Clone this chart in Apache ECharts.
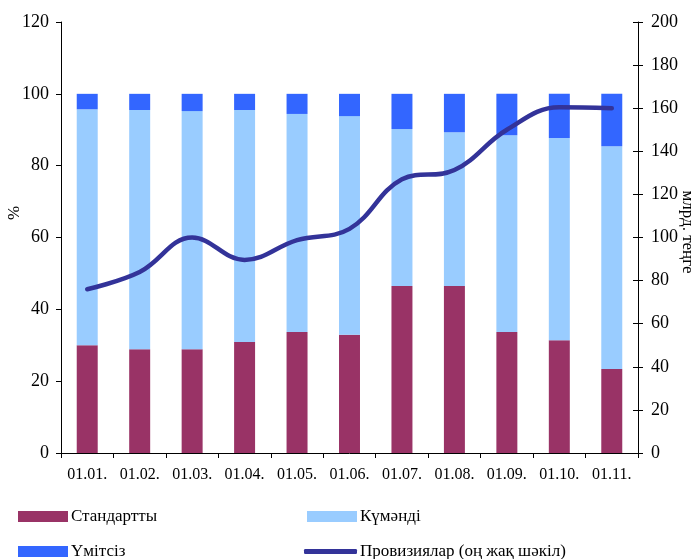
<!DOCTYPE html>
<html>
<head>
<meta charset="utf-8">
<script src="https://cdn.jsdelivr.net/npm/echarts@6/dist/echarts.min.js"></script>
<style>
  html, body { margin: 0; padding: 0; background: #fff; }
  #main { width: 693px; height: 559px; }
</style>
</head>
<body>
<div id="main"></div>
<script>
// даты (ось X)
var dates = ['01.01.', '01.02.', '01.03.', '01.04.', '01.05.', '01.06.', '01.07.', '01.08.', '01.09.', '01.10.', '01.11.'];
// доли, %
var standard = [30.0, 28.9, 28.9, 30.9, 33.7, 32.9, 46.5, 46.5, 33.7, 31.4, 23.4];
var doubtful = [65.7, 66.6, 66.3, 64.6, 60.7, 60.9, 43.7, 42.8, 54.8, 56.3, 62.0];
var hopeless = [4.3, 4.5, 4.8, 4.5, 5.6, 6.2, 9.8, 10.7, 11.5, 12.3, 14.6];
// провизии, млрд. тенге (правая шкала)
var provisions = [76, 84, 100, 89.6, 98.8, 104, 127, 131.3, 150, 160.4, 160];

var names = ['Стандартты', 'Күмәнді', 'Үмітсіз', 'Провизиялар (оң жақ шәкіл)'];
var font = 'Liberation Serif';

var myChart = echarts.init(document.getElementById('main'));

function legendAt(name, left, top, icon, w, h) {
  return {
    data: [{ name: name, icon: icon }],
    left: left,
    top: top,
    padding: 0,
    itemWidth: w,
    itemHeight: h,
    itemGap: 0,
    selectedMode: false,
    textStyle: { fontFamily: font, fontSize: 17, color: '#000', padding: [0, 0, 0, -2] }
  };
}

var axisLabel = { fontFamily: font, fontSize: 18, color: '#000' };
var axisLine = { show: true, lineStyle: { color: '#000', width: 1 } };

var option = {
  animation: false,
  textStyle: { fontFamily: font },
  grid: { left: 61, right: 55, top: 22, bottom: 106, containLabel: false },
  legend: [
    legendAt(names[0], 18, 508, 'rect', 50, 11),
    legendAt(names[1], 307, 508, 'rect', 50, 11),
    legendAt(names[2], 18, 543, 'rect', 50, 11),
    legendAt(names[3], 304, 543, 'roundRect', 53, 5)
  ],
  xAxis: {
    type: 'category',
    data: dates,
    axisLine: axisLine,
    axisTick: { show: true, length: 5, lineStyle: { color: '#000' } },
    axisLabel: { margin: 14, fontFamily: font, fontSize: 16, color: '#000' }
  },
  yAxis: [
    {
      type: 'value', min: 0, max: 120, interval: 20, position: 'left',
      axisLine: axisLine,
      axisTick: { show: true, length: 5, lineStyle: { color: '#000' } },
      axisLabel: Object.assign({ margin: 12 }, axisLabel),
      splitLine: { show: false }
    },
    {
      type: 'value', min: 0, max: 200, interval: 20, position: 'right',
      axisLine: axisLine,
      axisTick: { show: true, length: 5, lineStyle: { color: '#000' } },
      axisLabel: Object.assign({ margin: 13 }, axisLabel),
      splitLine: { show: false }
    },
    {
      // внутренние риски правой шкалы (крестиком)
      type: 'value', min: 0, max: 200, interval: 20, position: 'right',
      axisLine: { show: false },
      axisTick: { show: true, inside: true, length: 5, lineStyle: { color: '#000' } },
      axisLabel: { show: false },
      splitLine: { show: false }
    }
  ],
  graphic: [
    {
      type: 'text', x: 15, y: 213, rotation: Math.PI / 2,
      style: { text: '%', fontFamily: font, fontSize: 17, fill: '#000', align: 'center', verticalAlign: 'middle' }
    },
    {
      type: 'text', x: 687, y: 232, rotation: -Math.PI / 2,
      style: { text: 'млрд. теңге', fontFamily: font, fontSize: 17, fill: '#000', align: 'center', verticalAlign: 'middle' }
    }
  ],
  series: [
    { name: names[0], type: 'bar', stack: 'a', barWidth: '40%', data: standard, itemStyle: { color: '#993366' } },
    { name: names[1], type: 'bar', stack: 'a', barWidth: '40%', data: doubtful, itemStyle: { color: '#99CCFF' } },
    { name: names[2], type: 'bar', stack: 'a', barWidth: '40%', data: hopeless, itemStyle: { color: '#3366FF' } },
    {
      name: names[3], type: 'line', yAxisIndex: 1, data: provisions,
      smooth: 0.4, symbol: 'none',
      lineStyle: { color: '#333399', width: 4.5, cap: 'round' },
      itemStyle: { color: '#333399' }
    }
  ]
};
myChart.setOption(option);
</script>
</body>
</html>
